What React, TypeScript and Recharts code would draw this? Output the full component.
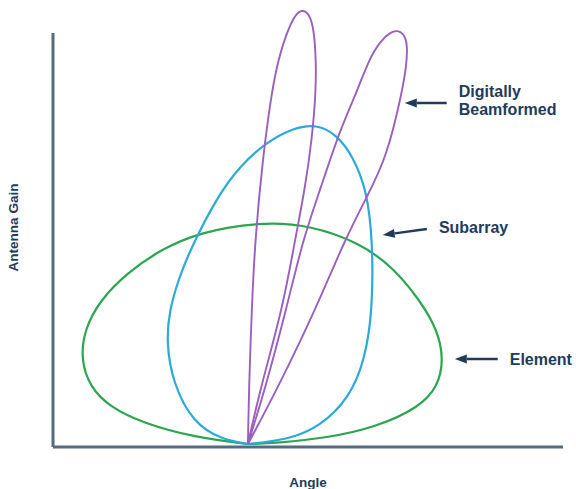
import { ComposedChart, Line, XAxis, YAxis, ReferenceLine } from "recharts";

type Pt = { angle: number; gain: number };

// Radiation patterns, traced as closed loops from the boresight origin
const elementPattern: Pt[] = [
  { angle: 0, gain: 0 },
  { angle: -16.9, gain: 0.7 },
  { angle: -32.3, gain: 2.1 },
  { angle: -42.5, gain: 3.7 },
  { angle: -48.6, gain: 5.7 },
  { angle: -51.4, gain: 8.4 },
  { angle: -50.4, gain: 11.4 },
  { angle: -45.5, gain: 14.4 },
  { angle: -37.2, gain: 17.1 },
  { angle: -27.1, gain: 19.4 },
  { angle: -14.8, gain: 21.2 },
  { angle: 3.7, gain: 22.2 },
  { angle: 19.1, gain: 21.9 },
  { angle: 34.5, gain: 20.1 },
  { angle: 44.6, gain: 17.7 },
  { angle: 52.9, gain: 14.4 },
  { angle: 58.4, gain: 11.4 },
  { angle: 60.3, gain: 8.4 },
  { angle: 58.4, gain: 5.7 },
  { angle: 52.9, gain: 3.7 },
  { angle: 39.7, gain: 1.7 },
  { angle: 24.3, gain: 0.6 },
  { angle: 8.9, gain: 0.1 },
  { angle: 0, gain: 0 },
];

const subarrayPattern: Pt[] = [
  { angle: 0, gain: 0 },
  { angle: -7.7, gain: 0.4 },
  { angle: -16.9, gain: 2.1 },
  { angle: -23.1, gain: 6.1 },
  { angle: -25.1, gain: 10.1 },
  { angle: -24.2, gain: 13.4 },
  { angle: -21.1, gain: 16.7 },
  { angle: -17.8, gain: 19.4 },
  { angle: -9.5, gain: 24.7 },
  { angle: -2.5, gain: 27.8 },
  { angle: 5.8, gain: 30.2 },
  { angle: 13.8, gain: 31.6 },
  { angle: 21.2, gain: 32.0 },
  { angle: 27.4, gain: 30.9 },
  { angle: 32.3, gain: 28.8 },
  { angle: 36.6, gain: 25.4 },
  { angle: 38.4, gain: 20.4 },
  { angle: 38.4, gain: 13.4 },
  { angle: 36.0, gain: 8.4 },
  { angle: 31.4, gain: 4.7 },
  { angle: 22.2, gain: 1.7 },
  { angle: 12.0, gain: 0.4 },
  { angle: 0, gain: 0 },
];

const beamA: Pt[] = [
  { angle: 0, gain: 0 },
  { angle: 0.3, gain: 5.4 },
  { angle: 1.2, gain: 13.7 },
  { angle: 2.2, gain: 20.4 },
  { angle: 4.6, gain: 28.7 },
  { angle: 7.4, gain: 35.4 },
  { angle: 9.5, gain: 38.6 },
  { angle: 11.6, gain: 40.8 },
  { angle: 14.2, gain: 42.8 },
  { angle: 16.6, gain: 43.5 },
  { angle: 19.0, gain: 43.0 },
  { angle: 20.3, gain: 41.4 },
  { angle: 20.9, gain: 38.9 },
  { angle: 21.0, gain: 35.4 },
  { angle: 19.7, gain: 30.4 },
  { angle: 17.5, gain: 25.4 },
  { angle: 14.5, gain: 20.4 },
  { angle: 10.8, gain: 13.7 },
  { angle: 3.7, gain: 5.4 },
  { angle: 0, gain: 0 },
];

const beamB: Pt[] = [
  { angle: 0, gain: 0 },
  { angle: 5.2, gain: 5.4 },
  { angle: 12.0, gain: 13.7 },
  { angle: 16.9, gain: 20.4 },
  { angle: 22.2, gain: 25.4 },
  { angle: 28.3, gain: 31.4 },
  { angle: 33.8, gain: 35.4 },
  { angle: 37.2, gain: 38.4 },
  { angle: 40.8, gain: 40.3 },
  { angle: 43.9, gain: 41.2 },
  { angle: 46.4, gain: 41.4 },
  { angle: 48.5, gain: 40.8 },
  { angle: 49.1, gain: 39.6 },
  { angle: 48.8, gain: 37.9 },
  { angle: 47.6, gain: 35.4 },
  { angle: 42.8, gain: 28.7 },
  { angle: 36.6, gain: 24.7 },
  { angle: 29.8, gain: 20.4 },
  { angle: 21.2, gain: 13.7 },
  { angle: 8.9, gain: 5.4 },
  { angle: 0, gain: 0 },
];

// Callouts: arrow runs from tail to head, text sits right of the tail
const notes = [
  { lines: ["Digitally", "Beamformed"], tail: { x: 61.2, y: 34.1 }, head: { x: 48.3, y: 34.1 }, dy: -3 },
  { lines: ["Subarray"], tail: { x: 55.1, y: 21.5 }, head: { x: 41.5, y: 20.9 }, dy: -2 },
  { lines: ["Element"], tail: { x: 76.9, y: 8.5 }, head: { x: 63.7, y: 8.5 }, dy: 0 },
];

const ANGLE_DOMAIN: [number, number] = [-60, 97];
const GAIN_DOMAIN: [number, number] = [-0.3, 43.6];
const AXIS_TOP = 41.1;

const AXIS_COLOR = "#566a80";
const NOTE_COLOR = "#1f3b5c";
const FONT = "'Liberation Sans', Arial, sans-serif";

function ArrowNote(props: any) {
  const { x1, y1, x2, y2, lines, textDy } = props;
  const dx = x2 - x1;
  const dy = y2 - y1;
  const len = Math.sqrt(dx * dx + dy * dy) || 1;
  const ux = dx / len;
  const uy = dy / len;
  const headLen = 12;
  const headW = 4.5;
  const bx = x2 - ux * headLen;
  const by = y2 - uy * headLen;
  const lineGap = 18;
  const startY = y1 + textDy - ((lines.length - 1) * lineGap) / 2;
  return (
    <g>
      <line x1={x1} y1={y1} x2={bx} y2={by} stroke={NOTE_COLOR} strokeWidth={2.5} />
      <polygon
        points={`${x2},${y2} ${bx - uy * headW},${by + ux * headW} ${bx + uy * headW},${by - ux * headW}`}
        fill={NOTE_COLOR}
      />
      {lines.map((t: string, i: number) => (
        <text
          key={t}
          x={x1 + 12}
          y={startY + i * lineGap}
          dominantBaseline="central"
          fill={NOTE_COLOR}
          fontFamily={FONT}
          fontWeight={700}
          fontSize={16}
        >
          {t}
        </text>
      ))}
    </g>
  );
}

export default function App() {
  return (
    <div style={{ position: "absolute", left: 0, top: 0, width: 576, height: 489, background: "#fff" }}>
      <ComposedChart width={576} height={489} margin={{ top: 8, right: 13, bottom: 0, left: 0 }}>
        <XAxis
          type="number"
          dataKey="angle"
          domain={ANGLE_DOMAIN}
          tick={false}
          tickLine={false}
          height={42}
          axisLine={{ stroke: AXIS_COLOR, strokeWidth: 3 }}
          label={{
            content: ({ viewBox }: any) => (
              <text
                x={viewBox.x + viewBox.width / 2}
                y={viewBox.y + 35}
                textAnchor="middle"
                dominantBaseline="central"
                fill={NOTE_COLOR}
                fontFamily={FONT}
                fontWeight={700}
                fontSize={13.5}
              >
                Angle
              </text>
            ),
          }}
        />
        <YAxis
          type="number"
          domain={GAIN_DOMAIN}
          width={53}
          tick={false}
          tickLine={false}
          axisLine={false}
          label={{
            content: ({ viewBox }: any) => {
              const cx = viewBox.x + 13;
              const cy = viewBox.y + viewBox.height / 2;
              return (
                <text
                  x={cx}
                  y={cy}
                  transform={`rotate(-90 ${cx} ${cy})`}
                  textAnchor="middle"
                  dominantBaseline="central"
                  fill={NOTE_COLOR}
                  fontFamily={FONT}
                  fontWeight={700}
                  fontSize={13.5}
                >
                  Antenna Gain
                </text>
              );
            },
          }}
        />
        <ReferenceLine
          segment={[
            { x: ANGLE_DOMAIN[0], y: GAIN_DOMAIN[0] },
            { x: ANGLE_DOMAIN[0], y: AXIS_TOP },
          ]}
          stroke={AXIS_COLOR}
          strokeWidth={3}
        />
        <Line data={elementPattern} dataKey="gain" type="basis" stroke="#2ba64f" strokeWidth={2.2} dot={false} activeDot={false} isAnimationActive={false} />
        <Line data={subarrayPattern} dataKey="gain" type="basis" stroke="#2ba9d9" strokeWidth={2.2} dot={false} activeDot={false} isAnimationActive={false} />
        <Line data={beamA} dataKey="gain" type="basis" stroke="#9b5fbf" strokeWidth={1.9} dot={false} activeDot={false} isAnimationActive={false} />
        <Line data={beamB} dataKey="gain" type="basis" stroke="#9b5fbf" strokeWidth={1.9} dot={false} activeDot={false} isAnimationActive={false} />
        {notes.map((n) => (
          <ReferenceLine
            key={n.lines[0]}
            segment={[n.tail, n.head]}
            ifOverflow="visible"
            shape={(p: any) => <ArrowNote {...p} lines={n.lines} textDy={n.dy} />}
          />
        ))}
      </ComposedChart>
    </div>
  );
}
